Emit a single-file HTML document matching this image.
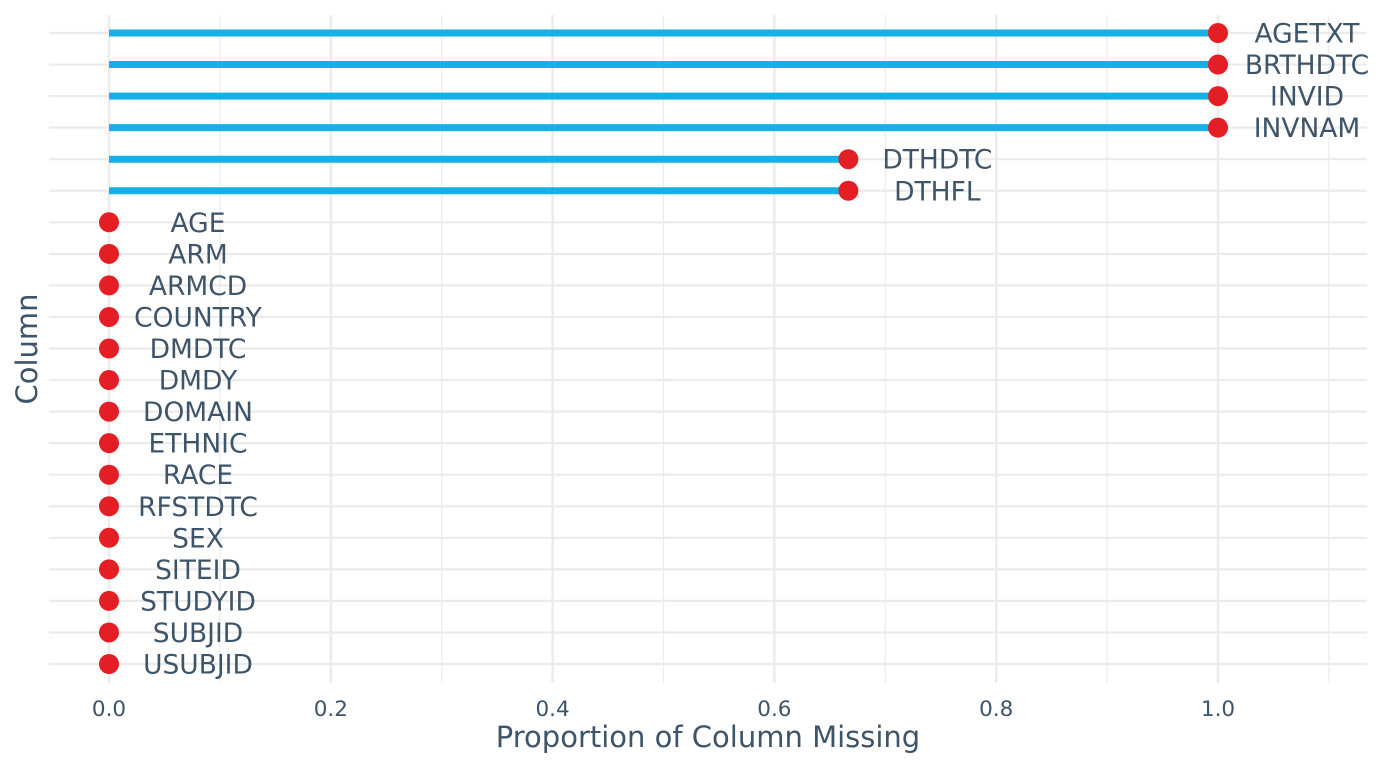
<!DOCTYPE html>
<html><head><meta charset="utf-8"><style>
html,body{margin:0;padding:0;background:#fff}
svg text{font-family:"DejaVu Sans","Liberation Sans",sans-serif;fill:#3e5468}
</style></head><body>
<svg width="1382" height="768" viewBox="0 0 1382 768" xmlns="http://www.w3.org/2000/svg">
<g stroke="#ebebeb" stroke-width="1.2">
<line x1="219.9" y1="15" x2="219.9" y2="683"/>
<line x1="441.7" y1="15" x2="441.7" y2="683"/>
<line x1="663.5" y1="15" x2="663.5" y2="683"/>
<line x1="885.3" y1="15" x2="885.3" y2="683"/>
<line x1="1107.1" y1="15" x2="1107.1" y2="683"/>
<line x1="1328.9" y1="15" x2="1328.9" y2="683"/>
</g>
<g stroke="#ebebeb" stroke-width="2.4">
<line x1="109" y1="15" x2="109" y2="683"/>
<line x1="330.8" y1="15" x2="330.8" y2="683"/>
<line x1="552.6" y1="15" x2="552.6" y2="683"/>
<line x1="774.4" y1="15" x2="774.4" y2="683"/>
<line x1="996.2" y1="15" x2="996.2" y2="683"/>
<line x1="1218" y1="15" x2="1218" y2="683"/>
</g>
<g id="rows"></g>
<g font-size="21.5" text-anchor="middle">
<text x="109" y="716">0.0</text>
<text x="330.8" y="716">0.2</text>
<text x="552.6" y="716">0.4</text>
<text x="774.4" y="716">0.6</text>
<text x="996.2" y="716">0.8</text>
<text x="1218" y="716">1.0</text>
</g>
<text x="708" y="747" font-size="29" text-anchor="middle">Proportion of Column Missing</text>
<text transform="translate(37,349) rotate(-90)" font-size="29" text-anchor="middle">Column</text>
</svg>
<script>
var d=[["AGETXT",1],["BRTHDTC",1],["INVID",1],["INVNAM",1],["DTHDTC",0.6667],["DTHFL",0.6667],["AGE",0],["ARM",0],["ARMCD",0],["COUNTRY",0],["DMDTC",0],["DMDY",0],["DOMAIN",0],["ETHNIC",0],["RACE",0],["RFSTDTC",0],["SEX",0],["SITEID",0],["STUDYID",0],["SUBJID",0],["USUBJID",0]];
var g=document.getElementById('rows'),s='';
d.forEach(function(r,i){var y=33+i*31.55,x=109+r[1]*1109;
s+='<line x1="49" x2="1367" y1="'+y+'" y2="'+y+'" stroke="#ebebeb" stroke-width="2.2"/>';
if(r[1]>0)s+='<line x1="109" x2="'+x+'" y1="'+y+'" y2="'+y+'" stroke="#13b1e6" stroke-width="7"/>';
s+='<circle cx="'+x+'" cy="'+y+'" r="10" fill="#e31e24"/>';
s+='<text x="'+(x+89)+'" y="'+(y+9.5)+'" font-size="26.5" text-anchor="middle">'+r[0]+'</text>';});
g.innerHTML=s;
</script>
</body></html>
